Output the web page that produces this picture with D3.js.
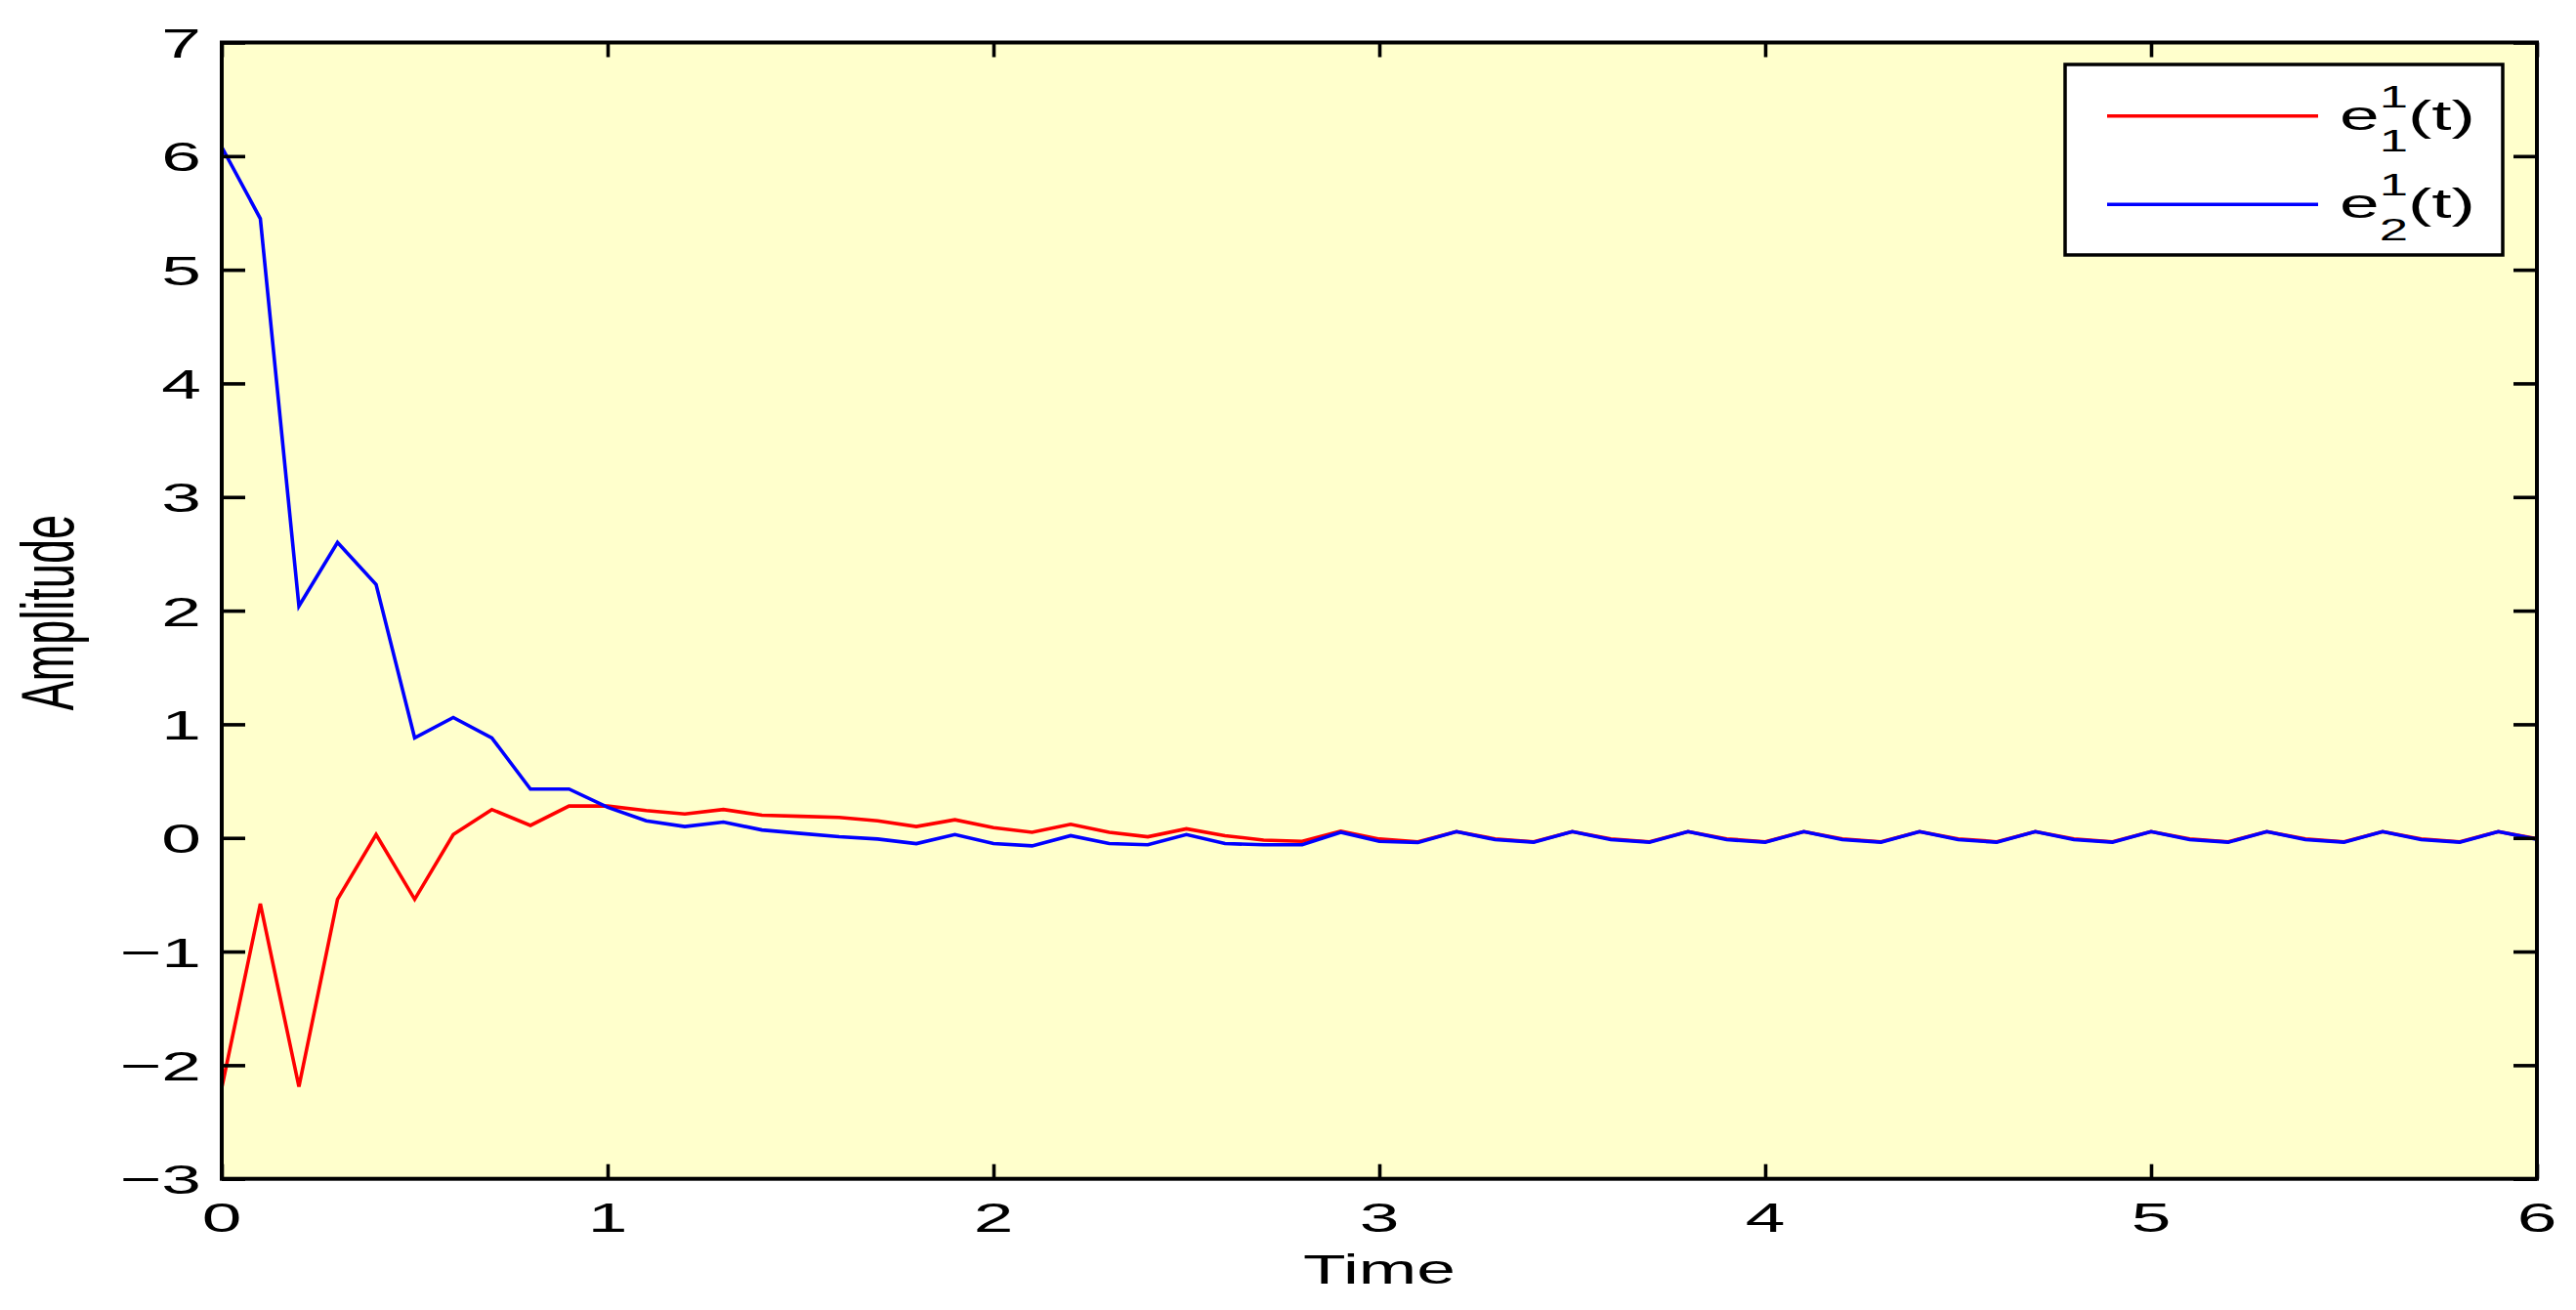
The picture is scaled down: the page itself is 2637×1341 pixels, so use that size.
<!DOCTYPE html>
<html><head><meta charset="utf-8">
<script src="https://cdn.jsdelivr.net/npm/d3@7"></script>
<style>body{margin:0;background:#fff}svg{display:block}text{font-family:"Liberation Sans",Arial,Helvetica,sans-serif;fill:#000}</style>
</head><body>
<svg id="c" width="2637" height="1341"></svg>
<script>
// ---- data ----
const time = [0.0,0.1,0.2,0.3,0.4,0.5,0.6,0.7,0.8,0.9,1.0,1.1,1.2,1.3,1.4,1.5,1.6,1.7,1.8,1.9,2.0,
  2.1,2.2,2.3,2.4,2.5,2.6,2.7,2.8,2.9,3.0,3.1,3.2,3.3,3.4,3.5,3.6,3.7,3.8,3.9,4.0,
  4.1,4.2,4.3,4.4,4.5,4.6,4.7,4.8,4.9,5.0,5.1,5.2,5.3,5.4,5.5,5.6,5.7,5.8,5.9,6.0];
const e1 = [-2.20,-0.58,-2.19,-0.54,0.03,-0.54,0.03,0.25,0.11,0.28,0.28,0.24,0.21,0.25,0.20,0.19,0.18,0.15,0.10,0.16,0.09,
  0.05,0.12,0.05,0.01,0.08,0.02,-0.02,-0.03,0.06,-0.01,-0.034,0.055,-0.008,-0.034,0.055,-0.008,-0.034,0.055,-0.008,-0.034,
  0.055,-0.008,-0.034,0.055,-0.008,-0.034,0.055,-0.008,-0.034,0.055,-0.008,-0.034,0.055,-0.008,-0.034,0.055,-0.008,-0.034,0.055,-0.008];
const e2 = [6.08,5.45,2.04,2.60,2.23,0.88,1.06,0.88,0.43,0.43,0.27,0.15,0.10,0.14,0.07,0.04,0.01,-0.01,-0.05,0.03,-0.05,
  -0.07,0.02,-0.05,-0.06,0.03,-0.05,-0.06,-0.06,0.05,-0.03,-0.04,0.055,-0.015,-0.038,0.055,-0.015,-0.038,0.055,-0.015,-0.038,
  0.055,-0.015,-0.038,0.055,-0.015,-0.038,0.055,-0.015,-0.038,0.055,-0.015,-0.038,0.055,-0.015,-0.038,0.055,-0.015,-0.038,0.055,-0.012];
const xTickValues = [0,1,2,3,4,5,6];
const yTickValues = [-3,-2,-1,0,1,2,3,4,5,6,7];
const seriesColors = ["#ff0000","#0000ff"];
const legendSub = ["1","2"];
const legendSup = ["1","1"];
const xLabel = "Time", yLabel = "Amplitude";

// ---- layout ----
const L = 227, R = 2597, T = 43.5, B = 1206.7;
const SX = 1.7;
const svg = d3.select("#c");
const x = d3.scaleLinear().domain([0,6]).range([L,R]);
const y = d3.scaleLinear().domain([-3,7]).range([B,T]);

svg.append("rect").attr("x",L).attr("y",T).attr("width",R-L).attr("height",B-T).attr("fill","#ffffcc");

svg.append("clipPath").attr("id","clip").append("rect").attr("x",L).attr("y",T).attr("width",R-L).attr("height",B-T);

const line = d3.line().x(d=>x(d[0])).y(d=>y(d[1]));
[e1,e2].forEach((s,i)=>{
  svg.append("path").datum(time.map((t,j)=>[t,s[j]]))
    .attr("d",line).attr("fill","none").attr("stroke",seriesColors[i])
    .attr("stroke-width",3.6).attr("stroke-linejoin","miter").attr("clip-path","url(#clip)");
});

// ticks (inward, mirrored)
function styleAxis(g){ g.select(".domain").remove(); g.selectAll("line").attr("stroke","#000").attr("stroke-width",3.6); g.selectAll("text").remove(); }
svg.append("g").attr("transform",`translate(0,${B})`).call(d3.axisBottom(x).tickValues(xTickValues).tickSize(-15)).call(styleAxis);
svg.append("g").attr("transform",`translate(0,${T})`).call(d3.axisTop(x).tickValues(xTickValues).tickSize(-15)).call(styleAxis);
svg.append("g").attr("transform",`translate(${L},0)`).call(d3.axisLeft(y).tickValues(yTickValues).tickSize(-24)).call(styleAxis);
svg.append("g").attr("transform",`translate(${R},0)`).call(d3.axisRight(y).tickValues(yTickValues).tickSize(-24)).call(styleAxis);

svg.append("rect").attr("x",L).attr("y",T).attr("width",R-L).attr("height",B-T)
  .attr("fill","none").attr("stroke","#000").attr("stroke-width",4);

const fmt = v => v<0 ? "\u2212"+(-v) : String(v);
yTickValues.forEach(v=>{
  svg.append("text").attr("transform",`translate(206,${y(v)+15.5}) scale(${SX},1)`)
    .attr("text-anchor","end").style("font-size","43px").text(fmt(v));
});
xTickValues.forEach(v=>{
  svg.append("text").attr("transform",`translate(${x(v)},1261) scale(${SX},1)`)
    .attr("text-anchor","middle").style("font-size","43px").text(fmt(v));
});
svg.append("text").attr("transform",`translate(${(L+R)/2},1314) scale(${SX},1)`)
  .attr("text-anchor","middle").style("font-size","42px").text(xLabel);
svg.append("text").attr("transform",`translate(75,${(T+B)/2+2}) rotate(-90) scale(1,${SX})`)
  .attr("text-anchor","middle").style("font-size","45px").text(yLabel);

// legend
const lg = svg.append("g");
lg.append("rect").attr("x",2114).attr("y",66).attr("width",448).attr("height",195)
  .attr("fill","#fff").attr("stroke","#000").attr("stroke-width",3.5);
seriesColors.forEach((c,i)=>{
  const ly = 118.7 + i*90.5;
  lg.append("line").attr("x1",2157).attr("x2",2373).attr("y1",ly).attr("y2",ly)
    .attr("stroke",c).attr("stroke-width",3.5);
  const base = 132.5 + i*90.5;
  let cx = 2395;
  const e = lg.append("text").attr("transform",`translate(${cx},${base}) scale(${SX},1)`).style("font-size","43px").text("e");
  cx += e.node().getComputedTextLength()*SX;
  const sp = lg.append("text").attr("transform",`translate(${cx},${base-23}) scale(${SX},1)`).style("font-size","31px").text(legendSup[i]);
  lg.append("text").attr("transform",`translate(${cx},${base+22.5}) scale(${SX},1)`).style("font-size","31px").text(legendSub[i]);
  cx += sp.node().getComputedTextLength()*SX;
  lg.append("text").attr("transform",`translate(${cx},${base}) scale(${SX},1)`).style("font-size","43px").text("(t)");
});
</script>
</body></html>
